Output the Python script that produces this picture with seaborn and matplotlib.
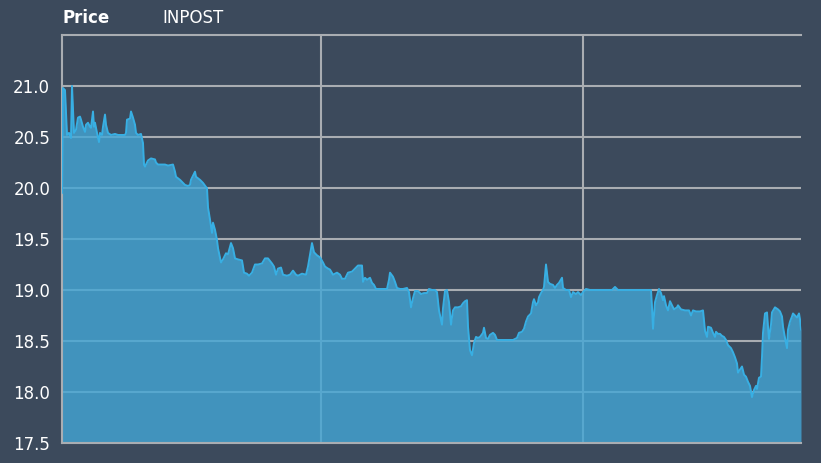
import numpy as np
import pandas as pd
import seaborn as sns
import matplotlib.pyplot as plt

# =========================
# data (time index vs price)
# =========================

t = [0, 1, 3, 5, 7, 9, 10, 12, 14, 16, 18, 19, 21, 23, 24, 26, 28, 29, 31, 32,
     33, 35, 37, 38, 40, 41, 43, 44, 46, 49, 53, 56, 59, 63, 64, 65, 68, 69, 71, 73,
     74, 76, 79, 81, 82, 83, 86, 89, 93, 94, 96, 99, 103, 106, 111, 113, 114, 118, 120, 123,
     126, 128, 129, 133, 134, 138, 141, 144, 145, 146, 148, 150, 151, 153, 155, 156, 159, 161, 164, 166,
     169, 171, 173, 176, 180, 182, 185, 187, 190, 193, 196, 200, 203, 206, 210, 212, 214, 216, 219, 221,
     225, 228, 231, 234, 236, 240, 244, 246, 250, 252, 255, 258, 261, 263, 266, 268, 271, 275, 278, 280,
     283, 286, 290, 293, 296, 300, 301, 303, 305, 308, 310, 312, 314, 317, 321, 325, 327, 328, 331, 333,
     335, 338, 341, 345, 347, 349, 351, 353, 356, 359, 362, 365, 367, 370, 373, 375, 377, 380, 381, 383,
     385, 387, 389, 391, 393, 396, 399, 401, 403, 405, 406, 408, 410, 412, 414, 416, 418, 421, 422, 424,
     426, 428, 431, 433, 435, 438, 445, 451, 455, 457, 460, 462, 464, 466, 469, 471, 472, 474, 476, 477,
     479, 481, 482, 484, 486, 488, 491, 493, 495, 497, 500, 501, 504, 507, 509, 511, 514, 516, 519, 521,
     524, 528, 538, 550, 553, 556, 568, 578, 589, 590, 591, 593, 595, 597, 599, 601, 602, 604, 606, 608,
     610, 612, 615, 616, 619, 623, 627, 629, 631, 634, 638, 641, 643, 645, 646, 649, 651, 653, 654, 656,
     658, 660, 662, 664, 666, 669, 671, 673, 675, 676, 678, 680, 682, 684, 686, 688, 690, 692, 694, 695,
     697, 699, 700, 701, 703, 705, 706, 707, 709, 710, 713, 716, 718, 720, 721, 723, 725, 726, 728, 730,
     731, 733, 735, 737, 738, 739]

price = [19.95, 20.98, 20.96, 20.52, 20.54, 20.49, 21.00, 20.54, 20.57, 20.69, 20.70, 20.67, 20.60, 20.55, 20.62, 20.64, 20.60, 20.59, 20.75, 20.60,
         20.64, 20.54, 20.45, 20.54, 20.52, 20.60, 20.72, 20.62, 20.54, 20.52, 20.53, 20.52, 20.52, 20.52, 20.54, 20.67, 20.68, 20.75, 20.69, 20.62,
         20.54, 20.52, 20.53, 20.44, 20.23, 20.21, 20.27, 20.29, 20.28, 20.25, 20.23, 20.23, 20.23, 20.22, 20.23, 20.16, 20.11, 20.08, 20.06, 20.03,
         20.02, 20.03, 20.08, 20.16, 20.11, 20.08, 20.05, 20.01, 20.00, 19.81, 19.69, 19.56, 19.66, 19.59, 19.49, 19.41, 19.27, 19.30, 19.36, 19.35,
         19.46, 19.41, 19.31, 19.30, 19.29, 19.17, 19.16, 19.14, 19.17, 19.25, 19.25, 19.26, 19.31, 19.31, 19.26, 19.23, 19.15, 19.21, 19.22, 19.15,
         19.14, 19.15, 19.19, 19.15, 19.14, 19.16, 19.15, 19.23, 19.46, 19.37, 19.34, 19.32, 19.27, 19.23, 19.21, 19.20, 19.15, 19.17, 19.15, 19.11,
         19.11, 19.17, 19.18, 19.21, 19.24, 19.24, 19.08, 19.12, 19.10, 19.12, 19.07, 19.05, 19.01, 19.01, 19.01, 19.01, 19.10, 19.17, 19.13, 19.08,
         19.02, 19.01, 19.01, 19.02, 18.98, 18.83, 18.92, 18.99, 18.99, 18.96, 18.97, 18.97, 19.01, 19.00, 19.00, 18.98, 18.80, 18.66, 18.82, 18.99,
         19.00, 18.88, 18.66, 18.80, 18.83, 18.83, 18.84, 18.87, 18.89, 18.90, 18.64, 18.41, 18.36, 18.48, 18.54, 18.53, 18.54, 18.58, 18.63, 18.53,
         18.52, 18.56, 18.58, 18.56, 18.51, 18.51, 18.51, 18.51, 18.53, 18.58, 18.59, 18.62, 18.69, 18.74, 18.77, 18.88, 18.91, 18.85, 18.88, 18.93,
         18.97, 19.00, 19.03, 19.25, 19.08, 19.06, 19.05, 19.02, 19.05, 19.07, 19.12, 19.02, 19.00, 19.00, 18.93, 18.98, 18.96, 18.98, 18.95, 18.98,
         19.01, 19.00, 19.00, 19.00, 19.03, 19.00, 19.00, 19.00, 19.00, 18.83, 18.62, 18.88, 18.95, 19.01, 18.97, 18.90, 18.94, 18.85, 18.80, 18.89,
         18.85, 18.81, 18.83, 18.85, 18.81, 18.80, 18.80, 18.75, 18.80, 18.79, 18.79, 18.80, 18.60, 18.54, 18.64, 18.63, 18.58, 18.54, 18.59, 18.57,
         18.57, 18.55, 18.54, 18.51, 18.46, 18.43, 18.39, 18.34, 18.28, 18.19, 18.22, 18.25, 18.17, 18.15, 18.10, 18.06, 17.95, 18.02, 18.06, 18.03,
         18.14, 18.15, 18.34, 18.58, 18.77, 18.78, 18.64, 18.52, 18.66, 18.78, 18.83, 18.81, 18.79, 18.74, 18.64, 18.53, 18.43, 18.61, 18.69, 18.74,
         18.77, 18.75, 18.73, 18.77, 18.71, 18.61]

y_ticks = [17.5, 18.0, 18.5, 19.0, 19.5, 20.0, 20.5, 21.0]
x_grid = [259, 521]

df = pd.DataFrame({'t': t, 'price': price})

# =========================
# style
# =========================
bg = '#3c4a5c'
grid_col = '#a9adb2'
sns.set_theme(style="dark", rc={"axes.facecolor": bg, "figure.facecolor": bg,
                                "axes.edgecolor": grid_col, "text.color": "white",
                                "ytick.color": "white", "xtick.color": "white"})
plt.rcParams['font.family'] = ['DejaVu Sans']

fig = plt.figure(figsize=(8.21, 4.63), dpi=100)
ax = fig.add_axes([62 / 821, 20 / 463, 739 / 821, 408 / 463])

# grid underneath the (semi transparent) area
ax.set_axisbelow(True)
ax.set_yticks(y_ticks)
ax.set_xticks(x_grid)
ax.grid(True, color=grid_col, lw=1.5)

ax.fill_between(df['t'], df['price'], 17.5, color='#43a6d6', alpha=0.8, lw=0, zorder=2)
sns.lineplot(data=df, x='t', y='price', ax=ax, color='#38afe3', lw=1.4, zorder=3)

ax.set_xlim(0, 739)
ax.set_ylim(17.5, 21.5)
ax.set_xticklabels([])
ax.set_yticklabels(['%.1f' % v for v in y_ticks], fontsize=12)
ax.tick_params(axis='both', length=0, pad=8.5)
ax.set_xlabel('')
ax.set_ylabel('')

for side in ['left', 'top', 'bottom']:
    ax.spines[side].set_visible(True)
    ax.spines[side].set_color(grid_col)
    ax.spines[side].set_linewidth(1.5)
ax.spines['right'].set_visible(False)

fig.text(62 / 821, 1 - 18 / 463, 'Price', fontsize=12, fontweight='bold', va='center', ha='left')
fig.text(162 / 821, 1 - 18 / 463, 'INPOST', fontsize=12, va='center', ha='left')

plt.savefig('out.png', dpi=100, facecolor=bg)
plt.close()
